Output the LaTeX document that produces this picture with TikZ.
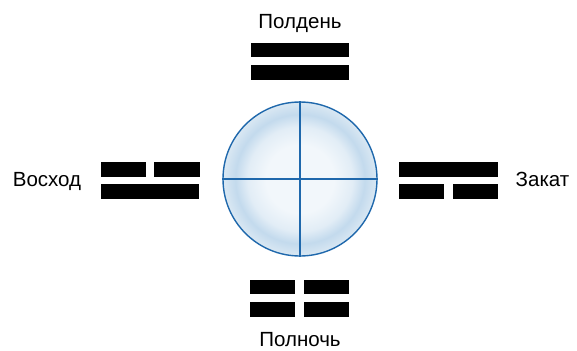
\documentclass[tikz,border=0pt]{standalone}
\usepackage{fontspec}
\setmainfont{Liberation Sans}
\definecolor{dialblue}{HTML}{1F68AC}
\definecolor{dialcore}{HTML}{F2F7FB}
\definecolor{dialmid}{HTML}{E2EDF6}
\definecolor{dialband}{HTML}{C3DAED}
\definecolor{dialedge}{HTML}{DAE8F3}
\pgfdeclareradialshading{dialshade}{\pgfpoint{0bp}{0bp}}{color(0bp)=(dialcore); color(11bp)=(dialcore); color(17bp)=(dialmid); color(21bp)=(dialband); color(25bp)=(dialedge); color(50bp)=(dialedge)}

\begin{document}
\begin{tikzpicture}[x=0.03cm,y=-0.03cm]
 \tikzset{word/.style = {font=\fontsize{17.5}{20}\selectfont,anchor=base,inner sep=0pt}}
 \tikzset{longbar/.style = {shape=rectangle,fill=black,inner sep=0pt,minimum width=2.94cm,minimum height=0.435cm}}
 \tikzset{shortbar/.style = {longbar,minimum width=1.35cm}}
 \tikzset{dial/.style = {shape=circle,draw=dialblue,line width=1.2pt,shading=dialshade,inner sep=0pt,minimum size=4.62cm}}
 \tikzset{cross/.style = {draw=dialblue,line width=1pt}}
 \useasboundingbox (0,0) rectangle (577,350);
 \node[dial] (d) at (300,179) {};
 \draw[cross] (d.north) -- (d.south);
 \draw[cross] (d.west) -- (d.east);

 \node[longbar] (n1) at (300,50) {};
 \node[longbar] (n2) at (300,72.5) {};
 \node[word] (noon) at (300,28) {Полдень};

 \node[shortbar] (e1) at (123.3,169.5) {};
 \node[shortbar] (e2) at (177,169.5) {};
 \node[longbar] (e3) at (150,191.5) {};
 \node[word] (rise) at (47,186) {Восход};

 \node[longbar] (w1) at (448.5,169.5) {};
 \node[shortbar] (w2) at (421.7,191.5) {};
 \node[shortbar] (w3) at (475.5,191.5) {};
 \node[word] (set) at (542.5,186) {Закат};

 \node[shortbar] (s1) at (272.5,287) {};
 \node[shortbar] (s2) at (326,287) {};
 \node[shortbar] (s3) at (272.5,309.5) {};
 \node[shortbar] (s4) at (326,309.5) {};
 \node[word] (night) at (300,346.7) {Полночь};
\end{tikzpicture}
\end{document}
